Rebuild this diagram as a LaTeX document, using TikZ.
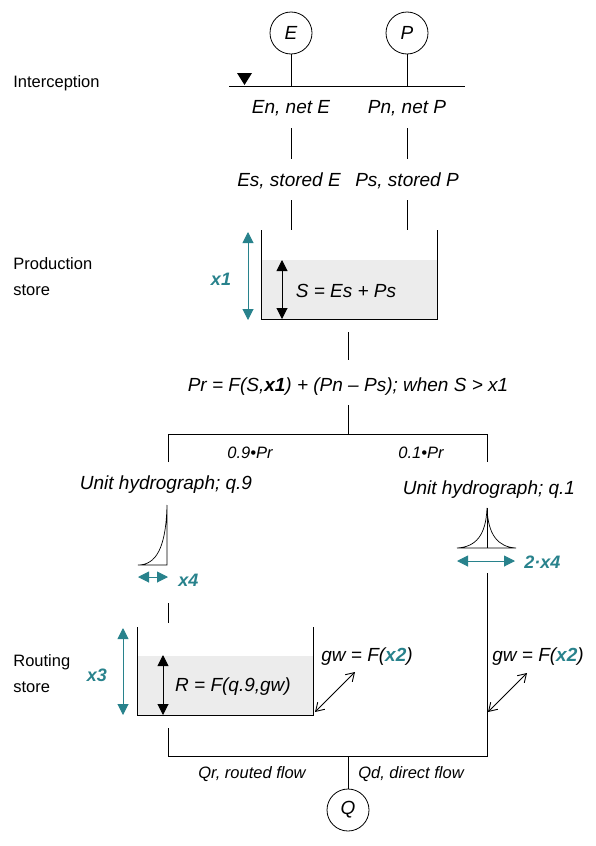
\documentclass[tikz,border=0pt]{standalone}
\usepackage{fontspec}
\setmainfont{Liberation Sans}
\usepackage{tikz}
\usetikzlibrary{arrows.meta, positioning, calc}
\definecolor{paramteal}{RGB}{40, 130, 140}
\definecolor{storegray}{RGB}{236, 236, 236}
\newcommand{\waterstore}[5]{%
  \fill[storegray] (#1,#5) rectangle (#2,#4);
  \draw (#1,#3) -- (#1,#4) -- (#2,#4) -- (#2,#3);
}
\tikzset{
  lbl/.style={font=\fontsize{16.5}{26}\selectfont, align=left, anchor=west, inner sep=0pt},
  eq/.style={font=\fontsize{19}{22}\selectfont\itshape, inner sep=1pt},
  smalleq/.style={font=\fontsize{16.5}{19}\selectfont\itshape, inner sep=1pt},
  param/.style={font=\fontsize{18}{21}\selectfont\bfseries\itshape, text=paramteal, inner sep=1pt},
  flux/.style={circle, draw, line width=0.8pt, minimum size=42pt, inner sep=0pt,
    font=\fontsize{19}{22}\selectfont\itshape},
  tealarrow/.style={paramteal, line width=1pt, {Triangle[width=11pt,length=11pt]}-{Triangle[width=11pt,length=11pt]}},
  levelarrow/.style={black, line width=1pt, {Triangle[width=11pt,length=11pt]}-{Triangle[width=11pt,length=11pt]}},
  gwarrow/.style={line width=0.9pt, {Straight Barb[length=8pt,width=10pt]}-{Straight Barb[length=8pt,width=10pt]}},
}

\begin{document}
\begin{tikzpicture}[x=1pt, y=-1pt, line width=0.7pt]
    \useasboundingbox (0,0) rectangle (595,846);
    % Inputs
    \node[flux] (E) at (291,33) {E};
    \node[flux] (P) at (407,33) {P};
    \coordinate (icL) at (229,86);
    \coordinate (icR) at (465,86);
    \draw (icL) -- (icR);
    \draw (E) -- (E |- icL);
    \draw (P) -- (P |- icL);
    \fill (237,73) -- (252,73) -- (244.5,85) -- cycle;
    % Left labels
    \node[lbl] (intercept) at (13,83) {Interception};
    \node[lbl] (prodlbl) at (13,277) {Production\\store};
    \node[lbl] (routlbl) at (13,674) {Routing\\store};
    % Net and stored rainfall
    \node[eq] (en) at (291,108) {En, net E};
    \node[eq] (pn) at (407,108) {Pn, net P};
    \node[eq] (es) at (289,181) {Es, stored E};
    \node[eq] (ps) at (407,181) {Ps, stored P};
    \draw[shorten <=20pt, shorten >=22pt] (291,108) -- (291,181);
    \draw[shorten <=20pt, shorten >=22pt] (pn.center) -- (ps.center);
    % Production store
    \waterstore{261}{437}{230}{319}{260}
    \coordinate (pstop) at (348,230);
    \coordinate (psbot) at (348,319);
    \draw[shorten <=19pt] (291,181) -- (291,230);
    \draw[shorten <=19pt] (ps.center) -- (ps.center |- pstop);
    \draw[tealarrow] (248,232) -- (248,320);
    \draw[levelarrow] (282,260) -- (282,319);
    \node[eq] (sval) at (346,291) {S = Es + Ps};
    \node[param] (xone) at (221,279) {x1};
    % Percolation
    \node[eq] (pr) at (348,387) {Pr = F(S,{\bfseries x1}) + (Pn – Ps); when S > x1};
    \draw[shorten <=13pt, shorten >=27pt] (psbot) -- (pr.center);
    \coordinate (split) at (348,434);
    \coordinate (brL) at (168,434);
    \coordinate (brR) at (487,434);
    \draw[shorten <=18pt] (pr.center) -- (split);
    \draw (168,462) -- (brL) -- (brR) -- (487,462);
    \node[smalleq] (nine) at (250,453) {0.9•Pr};
    \node[smalleq] (one) at (421,453) {0.1•Pr};
    % Unit hydrographs
    \node[eq] (uhnine) at (166,485) {Unit hydrograph; q.9};
    \node[eq] (uhone) at (489,490) {Unit hydrograph; q.1};
    \draw (138,565) .. controls (156,565) and (166,548) .. (167,505) -- (167,565) -- cycle;
    \draw (457,548) .. controls (476,547) and (486,535) .. (487,508)
          .. controls (488,535) and (498,547) .. (516,548) -- cycle;
    \draw (487,508) -- (487,548);
    \draw[tealarrow] (138,577) -- (168,577);
    \node[param, anchor=west] (xfour) at (177,580) {x4};
    \draw[tealarrow] (457,561) -- (515,561);
    \node[param, anchor=west] (twoxfour) at (523,562) {2·x4};
    % Routing store
    \waterstore{137}{313}{627}{715}{656}
    \draw (168,603) -- (168,623);
    \draw[tealarrow] (123,628) -- (123,715);
    \draw[levelarrow] (163,655) -- (163,715);
    \node[eq] (rval) at (233,687) {R = F(q.9,gw)};
    \node[param] (xthree) at (97,675) {x3};
    % Groundwater exchange
    \node[eq] (gwL) at (367,657) {gw = F(\textcolor{paramteal}{\bfseries x2})};
    \node[eq] (gwR) at (538,657) {gw = F(\textcolor{paramteal}{\bfseries x2})};
    \coordinate (gwLend) at (315,712);
    \coordinate (gwRend) at (488,712);
    \draw[gwarrow] (gwLend) -- (355,672);
    \draw[gwarrow] (gwRend) -- (527,673);
    % Outflow
    \node[flux] (Q) at (348,810) {Q};
    \coordinate (joinL) at (168,756);
    \coordinate (joinR) at (487,756);
    \draw (168,728) -- (joinL) -- (joinR) -- (487,573);
    \draw (Q |- joinL) -- (Q);
    \node[smalleq] (qr) at (252,774) {Qr, routed flow};
    \node[smalleq] (qd) at (411,774) {Qd, direct flow};
\end{tikzpicture}
\end{document}
